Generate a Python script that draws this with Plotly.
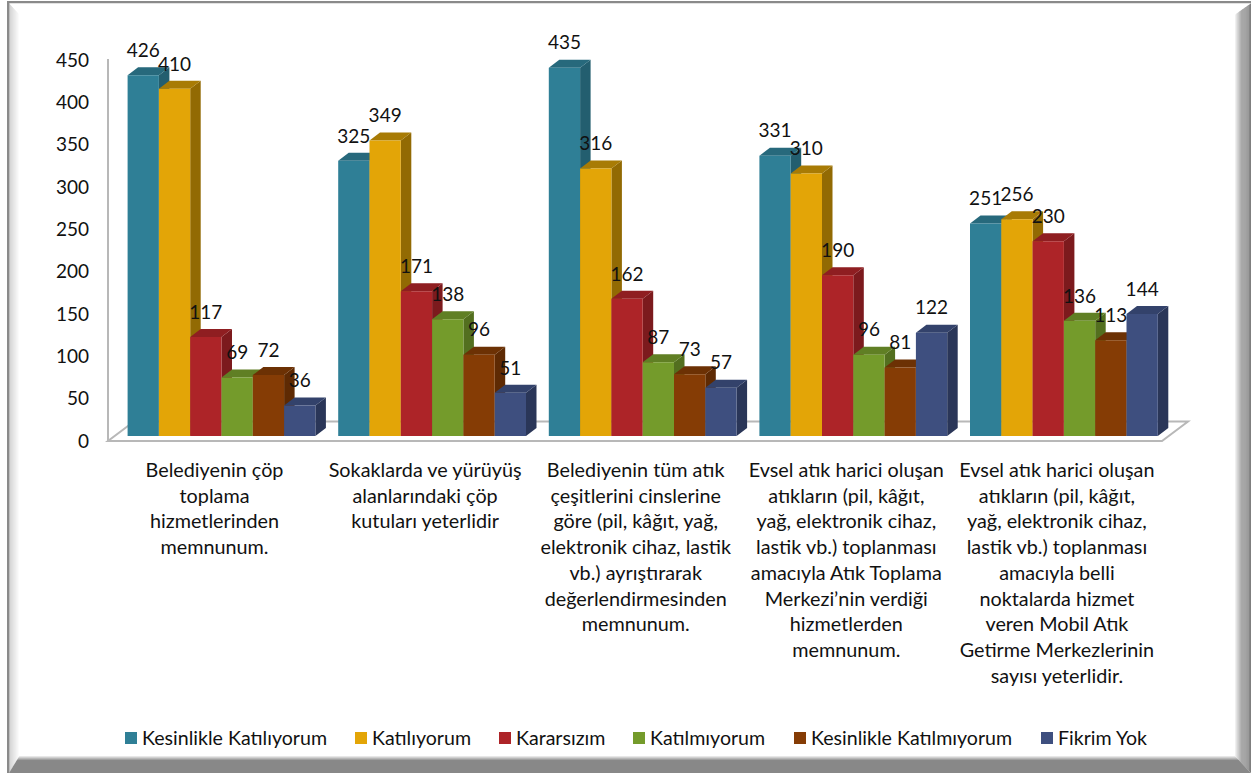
import plotly.graph_objects as go

categories = [
    "Belediyenin çöp<br>toplama<br>hizmetlerinden<br>memnunum.",
    "Sokaklarda ve yürüyüş<br>alanlarındaki çöp<br>kutuları yeterlidir",
    "Belediyenin tüm atık<br>çeşitlerini cinslerine<br>göre (pil, kâğıt, yağ,<br>elektronik cihaz, lastik<br>vb.) ayrıştırarak<br>değerlendirmesinden<br>memnunum.",
    "Evsel atık harici oluşan<br>atıkların (pil, kâğıt,<br>yağ, elektronik cihaz,<br>lastik vb.) toplanması<br>amacıyla Atık Toplama<br>Merkezi’nin verdiği<br>hizmetlerden<br>memnunum.",
    "Evsel atık harici oluşan<br>atıkların (pil, kâğıt,<br>yağ, elektronik cihaz,<br>lastik vb.) toplanması<br>amacıyla belli<br>noktalarda hizmet<br>veren Mobil Atık<br>Getirme Merkezlerinin<br>sayısı yeterlidir.",
]
series_names = ["Kesinlikle Katılıyorum", "Katılıyorum", "Kararsızım", "Katılmıyorum", "Kesinlikle Katılmıyorum", "Fikrim Yok"]
kesinlikle_katiliyorum = [426, 325, 435, 331, 251]
katiliyorum = [410, 349, 316, 310, 256]
kararsizim = [117, 171, 162, 190, 230]
katilmiyorum = [69, 138, 87, 96, 136]
kesinlikle_katilmiyorum = [72, 96, 73, 81, 113]
fikrim_yok = [36, 51, 57, 122, 144]
series_values = [kesinlikle_katiliyorum, katiliyorum, kararsizim, katilmiyorum, kesinlikle_katilmiyorum, fikrim_yok]
y_ticks = [0, 50, 100, 150, 200, 250, 300, 350, 400, 450]

front_colors = ["#2F7F96", "#E3A507", "#AD2428", "#749B2B", "#853C05", "#3E4F7F"]
side_colors = ["#235E6F", "#926A03", "#7C1A1D", "#536F1F", "#5E2A03", "#2A3658"]
top_colors = ["#27697C", "#A87B05", "#8F1E21", "#607F24", "#6C3104", "#33426B"]

W, H = 1256, 773
ML, MR, MT, MB = 100, 56, 30, 337
PW, PH = W - ML - MR, H - MT - MB
CAT_PX = 210.6
C0_PX = 221.5
Y_PX = 0.8467
bar_w = 31.3 / CAT_PX
dx = 10.5 / CAT_PX
dy = 8.0 / Y_PX
label_lift = 5.5 / Y_PX
FONT = "Lato"
FS_TICK = 19
FS_CAT = 19.8
FS_VAL = 19
FS_LEG = 19.6


def px(x):
    return (x - ML) / PW


def py(y):
    return 1 - (y - MT) / PH


fig = go.Figure()
n = len(series_values)
for s, vals in enumerate(series_values):
    off = (s - n / 2) * bar_w
    sx, sy, tx, ty = [], [], [], []
    for i, v in enumerate(vals):
        x0 = i + off
        x1 = x0 + bar_w
        sx += [x1, x1 + dx, x1 + dx, x1, x1, None]
        sy += [0, dy, v + dy, v, 0, None]
        tx += [x0, x0 + dx, x1 + dx, x1, x0, None]
        ty += [v, v + dy, v + dy, v, v, None]
    for fx, fy, col in ((sx, sy, side_colors[s]), (tx, ty, top_colors[s])):
        fig.add_trace(go.Scatter(x=fx, y=fy, mode="lines", fill="toself", fillcolor=col,
                                 line=dict(width=0, color=col), hoverinfo="skip",
                                 showlegend=False, zorder=2 * s))
    fig.add_trace(go.Bar(x=list(range(len(vals))), y=vals, name=series_names[s], width=bar_w, offset=off,
                         marker=dict(color=front_colors[s], line=dict(width=0)),
                         showlegend=False, zorder=2 * s + 1))
for s, vals in enumerate(series_values):
    off = (s - n / 2) * bar_w
    fig.add_trace(go.Scatter(x=[i + off + bar_w / 2 for i in range(len(vals))],
                             y=[v + dy + label_lift for v in vals], mode="text", text=[str(v) for v in vals],
                             textposition="top center", textfont=dict(family=FONT, size=FS_VAL, color="#111111"),
                             showlegend=False, hoverinfo="skip", zorder=100))

shapes = []


def quad(pts, col):
    path = "M " + " L ".join(f"{px(a)} {py(b)}" for a, b in pts) + " Z"
    shapes.append(dict(type="path", xref="paper", yref="paper", path=path, fillcolor=col,
                       line=dict(width=0), layer="below"))


def grey(a, b, t):
    g = int(round(a + (b - a) * t))
    return f"rgb({g},{g},{g})"


# bevelled frame: mitred strips on the left, right and bottom edges
def xl(t): return 9 + 11 * t
def xr(t): return 1251 - 17 * t
def yt(t): return 3.3 + 12 * t
def yb(t): return 773 - 18 * t


STEPS = 18
for k in range(STEPS):
    a, b = k / STEPS, (k + 1) / STEPS
    quad([(xl(a), yt(a)), (xl(b), yt(b)), (xl(b), yb(b)), (xl(a), yb(a))], grey(0xC0, 0xFF, b))
    right = 0x8A if b <= 0.59 else 0x8A + (0xFF - 0x8A) * (b - 0.59) / 0.41
    if a < 0.06:
        right = 0x78
    quad([(xr(a), yt(a)), (xr(b), yt(b)), (xr(b), yb(b)), (xr(a), yb(a))], grey(right, right, 0))
    bottom = 0x88 if b <= 0.72 else 0x88 + (0xFF - 0x88) * (b - 0.72) / 0.28
    quad([(xl(a), yb(a)), (xl(b), yb(b)), (xr(b), yb(b)), (xr(a), yb(a))], grey(bottom, bottom, 0))
quad([(7, 1), (1251, 1), (1251, 3.3), (7, 3.3)], "#8A8A8A")
quad([(7, 1), (9.3, 1), (9.3, 773), (7, 773)], "#8A8A8A")

# axis wall line and floor
GR = "#B8B8B8"
shapes.append(dict(type="line", xref="paper", yref="paper", x0=px(108), x1=px(108), y0=py(59), y1=py(441),
                   line=dict(color=GR, width=2), layer="below"))
floor = f"M {px(108)} {py(441)} L {px(1162)} {py(441)} L {px(1188)} {py(421.5)} L {px(134)} {py(421.5)} Z"
shapes.append(dict(type="path", xref="paper", yref="paper", path=floor, line=dict(color=GR, width=2), layer="below"))

# legend entries
legend_x = [125, 355, 499, 633, 794, 1041]
annotations = []
for s, name in enumerate(series_names):
    shapes.append(dict(type="rect", xref="paper", yref="paper", x0=px(legend_x[s]), x1=px(legend_x[s] + 12),
                       y0=py(732), y1=py(744), fillcolor=front_colors[s], line=dict(width=0), layer="above"))
    annotations.append(dict(xref="paper", yref="paper", x=px(legend_x[s] + 15), y=py(737.5), text=name, showarrow=False,
                            xanchor="left", yanchor="middle",
                            font=dict(family=FONT, size=FS_LEG, color="#111111")))

fig.update_layout(
    width=W, height=H, margin=dict(l=ML, r=MR, t=MT, b=MB, autoexpand=False),
    paper_bgcolor="white", plot_bgcolor="rgba(0,0,0,0)", barmode="overlay", showlegend=False,
    font=dict(family=FONT, color="#111111"), shapes=shapes, annotations=annotations,
    xaxis=dict(range=[(ML - C0_PX) / CAT_PX, (W - MR - C0_PX) / CAT_PX], tickmode="array",
               tickvals=list(range(len(categories))), ticktext=categories, showgrid=False, zeroline=False,
               showline=False, ticks="", tickangle=0, tickfont=dict(family=FONT, size=FS_CAT, color="#111111"),
               ticklabelstandoff=20, ticklabelshift=-7),
    yaxis=dict(range=[0, PH / Y_PX], tickmode="array", tickvals=y_ticks, showgrid=False, zeroline=False,
               showline=False, ticks="", tickfont=dict(family=FONT, size=FS_TICK, color="#111111"),
               ticklabelstandoff=10, ticklabelshift=5),
)
fig.write_html("out.html", post_script="document.body.style.margin='0';", config=dict(displayModeBar=False))
